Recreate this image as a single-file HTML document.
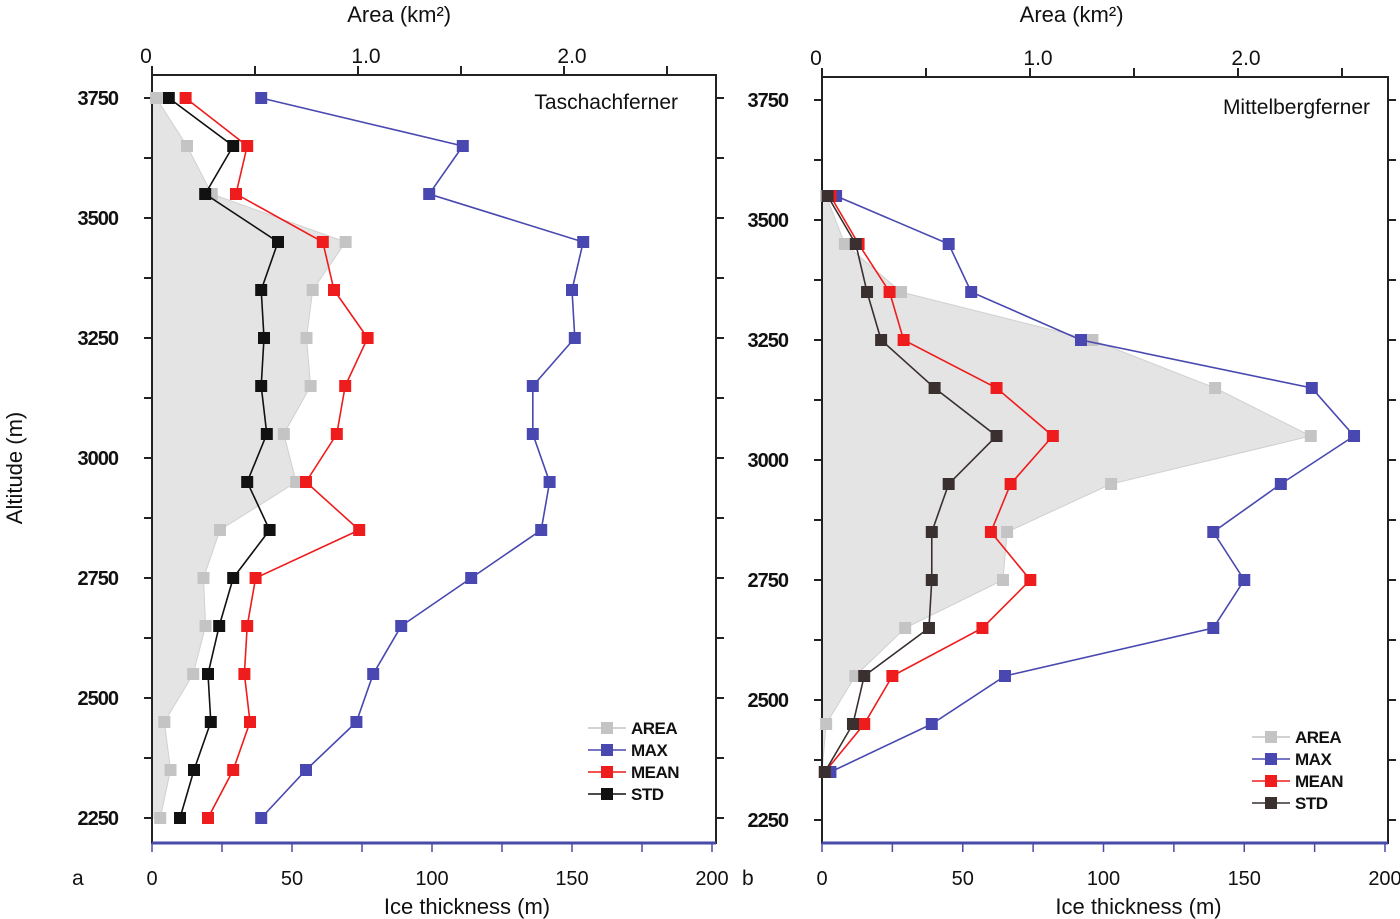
<!DOCTYPE html>
<html><head><meta charset="utf-8"><style>
body{margin:0;background:#fff;}
svg{display:block;font-family:"Liberation Sans",Arial,sans-serif;}
</style></head><body>
<svg id="c" width="1400" height="919" viewBox="0 0 1400 919"></svg>
<script>
const altA=[3750,3650,3550,3450,3350,3250,3150,3050,2950,2850,2750,2650,2550,2450,2350,2250];
const areaA=[0.02,0.17,0.29,0.94,0.78,0.75,0.77,0.64,0.70,0.33,0.25,0.26,0.20,0.06,0.09,0.04];
const maxA=[39,111,99,154,150,151,136,136,142,139,114,89,79,73,55,39];
const meanA=[12,34,30,61,65,77,69,66,55,74,37,34,33,35,29,20];
const stdA=[6,29,19,45,39,40,39,41,34,42,29,24,20,21,15,10];
const altB=[3550,3450,3350,3250,3150,3050,2950,2850,2750,2650,2550,2450,2350];
const areaB=[0.02,0.11,0.38,1.30,1.89,2.35,1.39,0.89,0.87,0.40,0.16,0.02,0.0];
const maxB=[5,45,53,92,174,189,163,139,150,139,65,39,3];
const meanB=[3,13,24,29,62,82,67,60,74,57,25,15,1];
const stdB=[2,12,16,21,40,62,45,39,39,38,15,11,1];
const altTicks=[3750,3500,3250,3000,2750,2500,2250];
const thickTicks=[0,50,100,150,200];
const areaTicks=["0","1.0","2.0"];

const svg=document.getElementById('c');
const NS='http://www.w3.org/2000/svg';
function mk(tag,attrs,parent,text){const e=document.createElementNS(NS,tag);for(const k in attrs)e.setAttribute(k,attrs[k]);if(text!==undefined)e.textContent=text;(parent||svg).appendChild(e);return e;}

function panel(p){
  const g=mk('g',{});
  
  
  const X=v=>p.x0+v*p.kx, XA=v=>p.x0+v*p.ka, Y=a=>p.y3750+(3750-a)*0.48;
  let pts=[[p.x0,Y(p.alts[0])]];
  p.alts.forEach((a,i)=>pts.push([XA(p.area[i]),Y(a)]));
  pts.push([p.x0,Y(p.alts[p.alts.length-1])]);
  const poly=mk('polygon',{points:pts.map(q=>q.join(',')).join(' '),fill:'#e4e4e4',stroke:'#d0d0d0','stroke-width':1},g);
  
  
  const fr=mk('rect',{x:p.x0,y:p.top,width:p.right-p.x0,height:843-p.top,fill:'none',stroke:'#222','stroke-width':2},g);
  
  
  for(let a=2250;a<=3750;a+=125){
    const y=Y(a);
    mk('line',{x1:p.x0-8,x2:p.x0,y1:y,y2:y,stroke:'#222','stroke-width':2},g);
    mk('line',{x1:p.right,x2:p.right+8,y1:y,y2:y,stroke:'#222','stroke-width':2},g);
  }
  altTicks.forEach(a=>{
    const t=mk('text',{x:p.x0-34,y:Y(a)+7,'text-anchor':'end','font-size':20,'font-weight':'bold',fill:'#111','letter-spacing':'-1'},g,a);
    
    
  });
  mk('line',{x1:p.x0,x2:p.right,y1:843,y2:843,stroke:'#4a4aa8','stroke-width':3},g);
  for(let v=0;v<=200;v+=25){mk('line',{x1:X(v),x2:X(v),y1:843,y2:852,stroke:'#4a4aa8','stroke-width':1.5},g);}
  thickTicks.forEach(v=>{
    const t=mk('text',{x:X(v),y:885,'text-anchor':'middle','font-size':20,fill:'#111'},g,v);
    
    
  });
  const xt=mk('text',{x:X(100)+35,y:914,'text-anchor':'middle','font-size':22,fill:'#111'},g,'Ice thickness (m)');
  
  
  for(let v=0;v<=2.5;v+=0.5){mk('line',{x1:XA(v),x2:XA(v),y1:p.top-9,y2:p.top,stroke:'#222','stroke-width':2},g);}
  areaTicks.forEach((s,i)=>{
    const t=mk('text',{x:XA(i)+(i==0?-6:8),y:p.top-12,'text-anchor':'middle','font-size':21,fill:'#111'},g,s);
    
    
  });
  const at=mk('text',{x:XA(1.2),y:22,'text-anchor':'middle','font-size':22,fill:'#111'},g,'Area (km²)');
  
  
  const lb=mk('text',{x:p.x0-80,y:885,'font-size':21,fill:'#111'},g,p.letter);
  
  
  const ti=mk('text',{x:p.right-(p.letter=='a'?38:18),y:Y(3750)+(p.letter=='a'?11:14),'text-anchor':'end','font-size':21,fill:'#111'},g,p.title);
  
  
  const series=[
    {name:'area',vals:p.area,f:XA,col:'#c4c4c4',line:false},
    {name:'max',vals:p.max,f:X,col:'#4848b0',line:true},
    {name:'mean',vals:p.mean,f:X,col:'#ee1c1c',line:true},
    {name:'std',vals:p.std,f:X,col:p.stdCol,line:true}];
  series.forEach(s=>{
    const sg=mk('g',{},g);
    
    
    if(s.line){
      const l=mk('polyline',{points:p.alts.map((a,i)=>s.f(s.vals[i])+','+Y(a)).join(' '),fill:'none',stroke:s.col,'stroke-width':1.6},sg);
      
      
    }
    p.alts.forEach((a,i)=>{
      if(s.name==='area'&&s.vals[i]===0)return;
      const r=mk('rect',{x:s.f(s.vals[i])-6,y:Y(a)-6,width:12,height:12,fill:s.col},sg);
      
      
    });
  });
  const lg=mk('g',{},g);
  
  
  [['AREA','#c4c4c4'],['MAX','#4848b0'],['MEAN','#ee1c1c'],['STD',p.stdCol]].forEach((e,i)=>{
    const y=p.legY+i*22;
    const eg=mk('g',{},lg);
    
    
    mk('line',{x1:p.legX,x2:p.legX+38,y1:y,y2:y,stroke:e[1],'stroke-width':1.6},eg);
    mk('rect',{x:p.legX+13,y:y-6,width:12,height:12,fill:e[1]},eg);
    mk('text',{x:p.legX+43,y:y+6,'font-size':17,'font-weight':'bold',fill:'#111','letter-spacing':'-0.5'},eg,e[0]);
  });
}
panel({name:'panel-taschachferner',letter:'a',title:'Taschachferner',x0:152,right:716,top:75,kx:2.8,ka:206,y3750:98,
  alts:altA,area:areaA,max:maxA,mean:meanA,std:stdA,stdCol:'#111',legX:588,legY:728});
panel({name:'panel-mittelbergferner',letter:'b',title:'Mittelbergferner',x0:822,right:1388,top:77,kx:2.815,ka:208,y3750:100,
  alts:altB,area:areaB,max:maxB,mean:meanB,std:stdB,stdCol:'#3a3030',legX:1252,legY:737});
const yt=mk('text',{x:0,y:0,'text-anchor':'middle','font-size':22,fill:'#111',transform:'translate(22,468) rotate(-90)'},svg,'Altitude (m)');


</script>
</body></html>
